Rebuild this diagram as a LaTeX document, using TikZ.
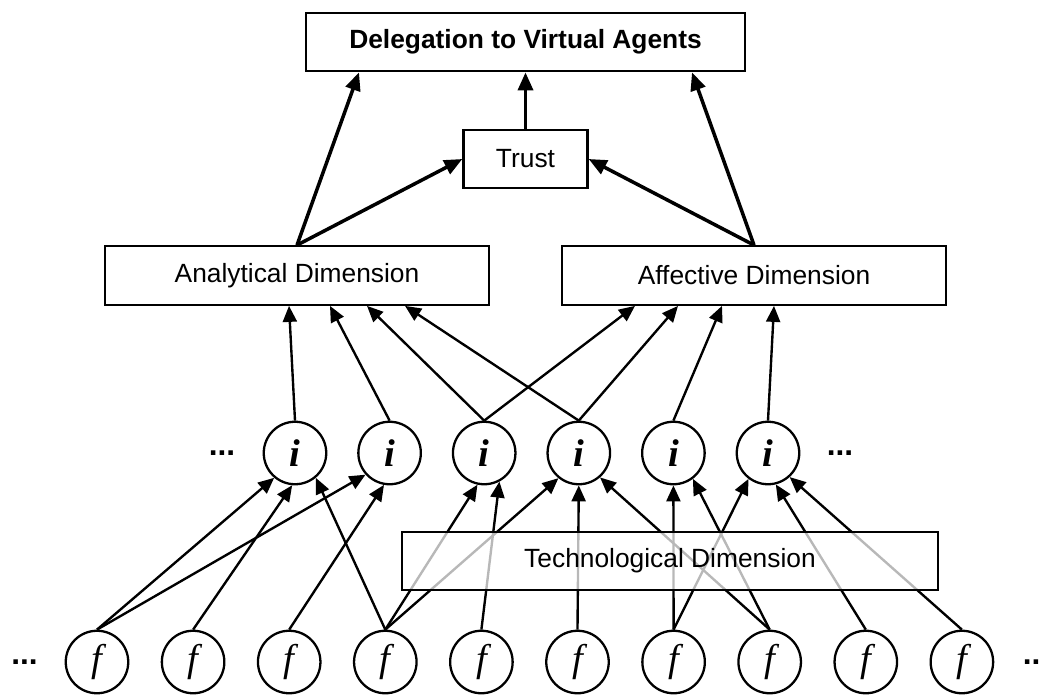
\documentclass[tikz,border=0pt]{standalone}
\usepackage{fontspec}
\setmainfont{Liberation Sans}
\newfontfamily\varfont{Liberation Serif}
\usetikzlibrary{arrows.meta}
\tikzset{
  box/.style={draw, line width=1.3pt, align=center, minimum height=1.17cm, inner sep=2pt, font=\fontsize{15}{17}\selectfont},
  kdim/.style={box, minimum width=7.68cm},
  ktop/.style={box, minimum width=8.78cm, font=\fontsize{15}{17}\selectfont\bfseries},
  ktrust/.style={box, minimum width=2.48cm},
  ktech/.style={box, minimum width=10.72cm, fill=white, fill opacity=0.72, text opacity=1, draw opacity=1},
  kvar/.style={draw, circle, line width=1.3pt, minimum size=1.25cm, inner sep=0pt, font=\varfont\itshape\fontsize{22}{22}\selectfont},
  kdots/.style={inner sep=0pt, font=\fontsize{18}{18}\selectfont\bfseries},
  flow/.style={-{Triangle[length=0.32cm, width=0.28cm]}, line width=1.35pt},
  bigflow/.style={-{Triangle[length=0.36cm, width=0.3cm]}, line width=2pt},
}

\begin{document}
\begin{tikzpicture}
    \useasboundingbox (0,0) rectangle (20.84,13.90);
    \node[ktop] (deleg) at (10.51,13.06) {Delegation to Virtual Agents};
    \node[ktrust] (trust) at (10.51,10.72) {Trust};
    \node[kdim] (analytic) at (5.94,8.39) {Analytical Dimension};
    \node[kdim] (affective) at (15.08,8.39) {Affective Dimension};
    % indicators and factors
    \foreach \k in {1,...,6}
      \node[kvar] (i\k) at ({5.90+(\k-1)*1.892},4.84) {\bfseries i};
    \foreach \k in {1,...,10}
      \node[kvar] (f\k) at ({1.94+(\k-1)*1.922},0.66) {f};
    \node[kdots] (idotsl) at (4.44,4.84) {...};
    \node[kdots] (idotsr) at (16.80,4.84) {...};
    \node[kdots] (fdotsl) at (0.49,0.66) {...};
    \node[kdots] (fdotsr) at (20.72,0.66) {...};
    % upper part
    \draw[bigflow] (trust) -- (deleg);
    \draw[bigflow] (analytic.north) -- ([xshift=-3.33cm]deleg.south);
    \draw[bigflow] (affective.north) -- ([xshift=3.33cm]deleg.south);
    \draw[bigflow] (analytic.north) -- (trust.west);
    \draw[bigflow] (affective.north) -- (trust.east);
    % indicators to dimensions
    \foreach \k/\dx in {1/-0.16, 2/0.66, 3/1.40, 4/2.16}
      \draw[flow] (i\k.north) -- ([xshift=\dx cm]analytic.south);
    \foreach \k/\dx in {3/-2.38, 4/-1.52, 5/-0.64, 6/0.40}
      \draw[flow] (i\k.north) -- ([xshift=\dx cm]affective.south);
    % factors to indicators
    \foreach \a/\b/\ang in {1/1/230, 1/2/222, 2/1/265, 3/2/260, 4/1/310, 4/3/258, 4/4/231, 5/3/298,
                            6/4/270, 7/5/270, 7/6/233, 8/4/311, 8/5/307, 9/6/284, 10/6/312}
      \draw[flow] (f\a.north) -- (i\b.\ang);
    \node[ktech] (techdim) at (13.40,2.68) {Technological Dimension};
  \end{tikzpicture}
\end{document}
